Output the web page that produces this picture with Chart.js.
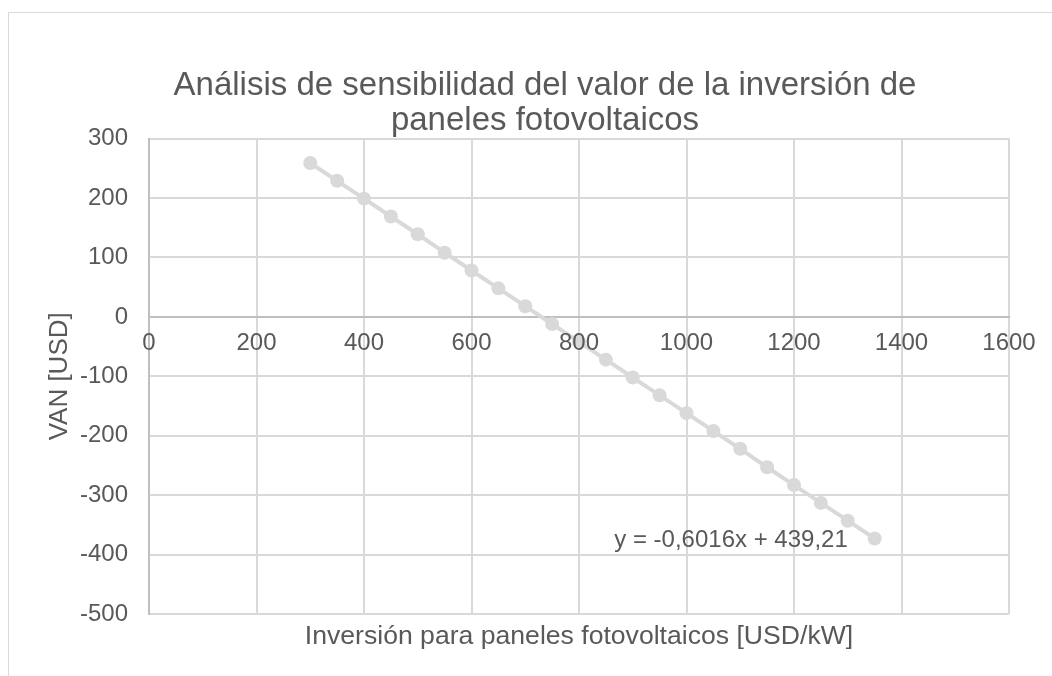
<!DOCTYPE html>
<html lang="es">
<head>
<meta charset="utf-8">
<title>Análisis de sensibilidad</title>
<script src="https://cdn.jsdelivr.net/npm/chart.js@4.4.1/dist/chart.umd.min.js"></script>
<style>
    html, body {
        margin: 0;
        padding: 0;
        background: #ffffff;
        overflow: hidden;
        width: 1052px;
        height: 676px;
    }
    #frame {
        position: absolute;
        left: 8px;
        top: 12px;
        width: 1072px;
        height: 690px;
        border: 1px solid #d9d9d9;
        background: #ffffff;
    }
    #sensChart {
        display: block;
    }
</style>
</head>
<body>
<div id="frame">
    <canvas id="sensChart" width="1072" height="690"></canvas>
</div>
<script>
// Inversión [USD/kW] y VAN [USD] resultante
const inversion = [300, 350, 400, 450, 500, 550, 600, 650, 700, 750, 800,
                   850, 900, 950, 1000, 1050, 1100, 1150, 1200, 1250, 1300, 1350];
const van = [259, 229, 199, 169, 139, 108, 78, 48, 18, -12, -42,
             -72, -102, -132, -162, -192, -222, -253, -283, -313, -343, -373];

const xTickValues = [0, 200, 400, 600, 800, 1000, 1200, 1400, 1600];
const yTickValues = [-500, -400, -300, -200, -100, 0, 100, 200, 300];

const trendText = 'y = -0,6016x + 439,21';

const colors = {
    text: '#595959',
    grid: '#d9d9d9',
    axis: '#bfbfbf',
    series: '#d9d9d9'
};

const FONT = "'Liberation Sans', Arial, sans-serif";

function fixedTicks(values) {
    return function(scale) {
        scale.ticks = values.map(v => ({ value: v }));
    };
}

// sin separador de miles
const plainNumber = value => String(value);

// etiqueta de la ecuación de tendencia, anclada en coordenadas de datos
const trendLabel = {
    id: 'trendLabel',
    afterDatasetsDraw(chart, args, opts) {
        const { ctx, scales } = chart;
        const px = scales.x.getPixelForValue(opts.x);
        const py = scales.y.getPixelForValue(opts.y);
        ctx.save();
        ctx.font = `${opts.size}px ${FONT}`;
        ctx.fillStyle = opts.color;
        ctx.textAlign = 'right';
        ctx.textBaseline = 'middle';
        ctx.fillText(opts.text, px, py);
        ctx.restore();
    }
};

const ctx = document.getElementById('sensChart').getContext('2d');
const chart = new Chart(ctx, {
    type: 'scatter',
    data: {
        datasets: [{
            label: 'VAN',
            data: inversion.map((x, i) => ({ x: x, y: van[i] })),
            showLine: true,
            borderColor: colors.series,
            backgroundColor: colors.series,
            borderWidth: 4,
            pointRadius: 7,
            pointBorderWidth: 0,
            pointBackgroundColor: colors.series,
            tension: 0,
            xAxisID: 'x',
            yAxisID: 'y'
        }]
    },
    options: {
        responsive: false,
        animation: false,
        devicePixelRatio: 1,
        layout: {
            padding: { left: 0, right: 0, top: 0, bottom: 39 }
        },
        plugins: {
            legend: { display: false },
            tooltip: { enabled: false },
            title: {
                display: true,
                text: ['Análisis de sensibilidad del valor de la inversión de', 'paneles fotovoltaicos'],
                color: colors.text,
                font: { family: FONT, size: 33, weight: 'normal', lineHeight: 1.07 },
                padding: { top: 55, bottom: 0 }
            },
            trendLabel: {
                text: trendText,
                x: 1300,
                y: -376,
                size: 24,
                color: colors.text
            }
        },
        scales: {
            x: {
                type: 'linear',
                position: 'bottom',
                min: 0,
                max: 1600,
                afterBuildTicks: fixedTicks(xTickValues),
                afterFit(scale) { scale.height = 50; },
                grid: { color: colors.grid, lineWidth: 2, drawTicks: false },
                border: { display: false },
                ticks: { display: false },
                title: {
                    display: true,
                    text: 'Inversión para paneles fotovoltaicos [USD/kW]',
                    color: colors.text,
                    font: { family: FONT, size: 26.6 },
                    padding: { top: 0, bottom: 11 }
                }
            },
            xCross: {
                axis: 'x',
                type: 'linear',
                position: { y: 0 },
                min: 0,
                max: 1600,
                afterBuildTicks: fixedTicks(xTickValues),
                afterFit(scale) { scale.height = 0; },
                grid: { display: false, drawTicks: false },
                border: { display: true, color: colors.axis, width: 2 },
                ticks: {
                    z: 1,
                    color: colors.text,
                    font: { family: FONT, size: 24 },
                    padding: 12,
                    maxRotation: 0,
                    autoSkip: false,
                    callback: plainNumber
                }
            },
            y: {
                type: 'linear',
                position: 'left',
                min: -500,
                max: 300,
                afterBuildTicks: fixedTicks(yTickValues),
                afterFit(scale) { scale.width = 140; },
                grid: { color: colors.grid, lineWidth: 2, drawTicks: false },
                border: { display: true, color: colors.axis, width: 2 },
                ticks: {
                    color: colors.text,
                    font: { family: FONT, size: 24 },
                    padding: 21,
                    callback: plainNumber
                },
                title: {
                    display: true,
                    text: 'VAN [USD]',
                    color: colors.text,
                    font: { family: FONT, size: 26 },
                    padding: { top: 35, bottom: 0 }
                }
            },
            // margen derecho vacío del área de gráfico
            ySpacer: {
                axis: 'y',
                type: 'linear',
                position: 'right',
                min: -500,
                max: 300,
                afterFit(scale) { scale.width = 72; },
                grid: { display: false, drawTicks: false },
                border: { display: false },
                ticks: { display: false }
            }
        }
    },
    plugins: [trendLabel]
});
</script>
</body>
</html>
